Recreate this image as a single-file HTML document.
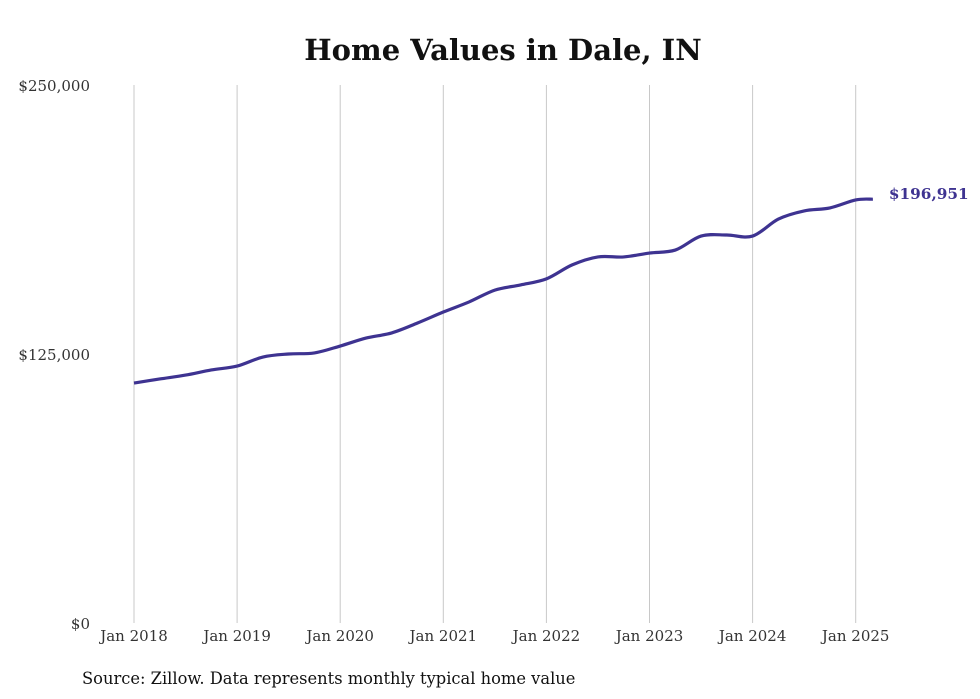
<!DOCTYPE html>
<html><head><meta charset="utf-8"><style>
body{margin:0;background:#fff;width:980px;height:699px;overflow:hidden}
svg{display:block;font-family:"DejaVu Serif","Liberation Serif",serif}
</style></head><body>
<svg id="c" width="980" height="699">
<text x="503" y="60" text-anchor="middle" font-size="29" font-weight="bold" fill="#111">Home Values in Dale, IN</text>
<g id="grid"></g>
<g id="yax"></g>
<g id="xax"></g>
<path id="line" fill="none" stroke="#3e3391" stroke-width="3.2"/>
<text id="endlbl" font-size="15.3" font-weight="bold" fill="#3e3391"></text>
<text x="82" y="684" font-size="16.3" fill="#111">Source: Zillow. Data represents monthly typical home value</text>
</svg>
<script>
const years=["Jan 2018","Jan 2019","Jan 2020","Jan 2021","Jan 2022","Jan 2023","Jan 2024","Jan 2025"];
const yTicks=[0,125000,250000];
const yTickLabels=["$0","$125,000","$250,000"];
const months=[0,3,6,9,12,15,18,21,24,27,30,33,36,39,42,45,48,51,54,57,60,63,66,69,72,75,78,81,84,86];
const values=[111500,113400,115200,117600,119400,123600,125000,125500,128700,132400,134800,139400,144500,149200,154700,157100,159900,166400,170100,170100,171900,173300,179800,180300,179800,187700,191500,192900,196600,196951];
const endLabel="$196,951";
const x0=134,pxYear=103.1,yTop=85,yBot=623,yMax=250000;
const X=m=>x0+m/12*pxYear, Y=v=>yBot-v/yMax*(yBot-yTop);
const ns="http://www.w3.org/2000/svg";
function mk(t,a,p){const e=document.createElementNS(ns,t);for(const k in a)e.setAttribute(k,a[k]);p.appendChild(e);return e;}
const grid=document.getElementById('grid'),xax=document.getElementById('xax'),yax=document.getElementById('yax');
years.forEach((l,i)=>{
 const x=X(i*12);
 const g=mk('line',{x1:x,x2:x,y1:yTop,y2:yBot,stroke:'#c8c8c8','stroke-width':1},grid);
 
 
 const t=mk('text',{x:x,y:yBot+18,'text-anchor':'middle','font-size':15,fill:'#333'},xax);
 t.textContent=l;
 
 
});
yTicks.forEach((v,i)=>{
 const t=mk('text',{x:90,y:Y(v)+6,'text-anchor':'end','font-size':15,fill:'#333'},yax);
 t.textContent=yTickLabels[i];
 
 
});
const P=months.map((m,i)=>[X(m),Y(values[i])]);
let d=`M${P[0][0]},${P[0][1]}`;
for(let i=0;i<P.length-1;i++){
 const p0=P[i-1]||P[i],p1=P[i],p2=P[i+1],p3=P[i+2]||P[i+1];
 const c1=[p1[0]+(p2[0]-p0[0])/6,p1[1]+(p2[1]-p0[1])/6],c2=[p2[0]-(p3[0]-p1[0])/6,p2[1]-(p3[1]-p1[1])/6];
 d+=` C${c1[0]},${c1[1]} ${c2[0]},${c2[1]} ${p2[0]},${p2[1]}`;
}
document.getElementById('line').setAttribute('d',d);
const el=document.getElementById('endlbl');const L=P[P.length-1];
el.setAttribute('x',L[0]+16);el.setAttribute('y',L[1]);el.textContent=endLabel;
</script>
</body></html>
